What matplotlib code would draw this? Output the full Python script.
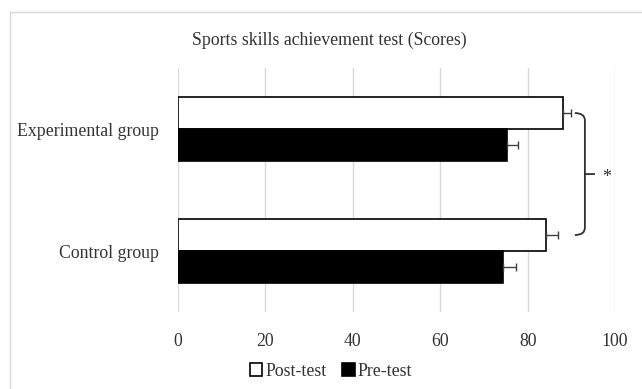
import matplotlib
matplotlib.use("Agg")
import matplotlib.pyplot as plt
from matplotlib.patches import Rectangle, PathPatch
from matplotlib.path import Path

plt.rcParams['font.family'] = ['Liberation Serif', 'DejaVu Serif']

groups = ["Control group", "Experimental group"]
post_test = [84.2, 88.0]
pre_test = [74.4, 75.2]
post_err = [2.7, 1.9]
pre_err = [2.9, 2.5]
x_ticks = [0, 20, 40, 60, 80, 100]

text_color = '#333333'
grid_color = '#d9d9d9'

fig = plt.figure(figsize=(6.42, 3.89), dpi=100)
ax = fig.add_axes([0.2773, 0.198, 0.6807, 0.627])

# outer chart frame (only top and left edges fall inside the image)
fig.patches.append(Rectangle((10 / 642, -0.2), 1.2, 1 - 12 / 389 + 0.2,
                             transform=fig.transFigure, fill=False,
                             edgecolor=grid_color, linewidth=1.0))

h = 0.262
pos = list(range(len(groups)))
post_y = [p + h / 2 for p in pos]
pre_y = [p - h / 2 for p in pos]

ax.barh(post_y, post_test, height=h, color='white', edgecolor='black',
        linewidth=1.2, zorder=3, label='Post-test')
ax.barh(pre_y, pre_test, height=h, color='black', edgecolor='black',
        linewidth=1.2, zorder=3, label='Pre-test')
ax.errorbar(post_test, post_y, xerr=[[0] * len(post_err), post_err], fmt='none',
            ecolor='#404040', elinewidth=1.0, capsize=3, capthick=1.0, zorder=4)
ax.errorbar(pre_test, pre_y, xerr=[[0] * len(pre_err), pre_err], fmt='none',
            ecolor='#404040', elinewidth=1.0, capsize=3, capthick=1.0, zorder=4)

ax.set_xlim(0, 100)
ax.set_ylim(-0.5, 1.5)
ax.set_xticks(x_ticks)
ax.set_yticks(pos)
ax.set_yticklabels(groups)
ax.tick_params(length=0, labelsize=12.8, colors=text_color)
ax.tick_params(axis='x', pad=15)
ax.tick_params(axis='y', pad=14)
ax.grid(axis='x', color=grid_color, linewidth=1.0, zorder=0)
for s in ax.spines.values():
    s.set_visible(False)

# significance brace between the post-test bars
top, bot = post_y[1], post_y[0]
mid = (top + bot) / 2
xl, xv, xt = 90.8, 93.1, 95.4
r = 0.06
verts = [(xl, top), (xv, top), (xv, top - r), (xv, bot + r), (xv, bot), (xl, bot),
         (xv, mid), (xt, mid)]
codes = [Path.MOVETO, Path.CURVE3, Path.CURVE3, Path.LINETO, Path.CURVE3, Path.CURVE3,
         Path.MOVETO, Path.LINETO]
ax.add_patch(PathPatch(Path(verts, codes), fill=False, edgecolor='#303030',
                       linewidth=1.3, clip_on=False, zorder=5))
ax.text(98.0, mid - 0.03, '*', ha='center', va='center', fontsize=13, color='#303030',
        clip_on=False)

fig.text(329 / 642, 1 - 40 / 389, 'Sports skills achievement test (Scores)',
         ha='center', va='center', fontsize=12.8, color=text_color)

fig.legend(loc='center', bbox_to_anchor=(331 / 642, 1 - 371 / 389), ncol=2,
           frameon=False, fontsize=12.8, handlelength=0.7, handleheight=0.7,
           handletextpad=0.15, columnspacing=0.9, labelcolor=text_color)

fig.savefig('out.png', dpi=100)
